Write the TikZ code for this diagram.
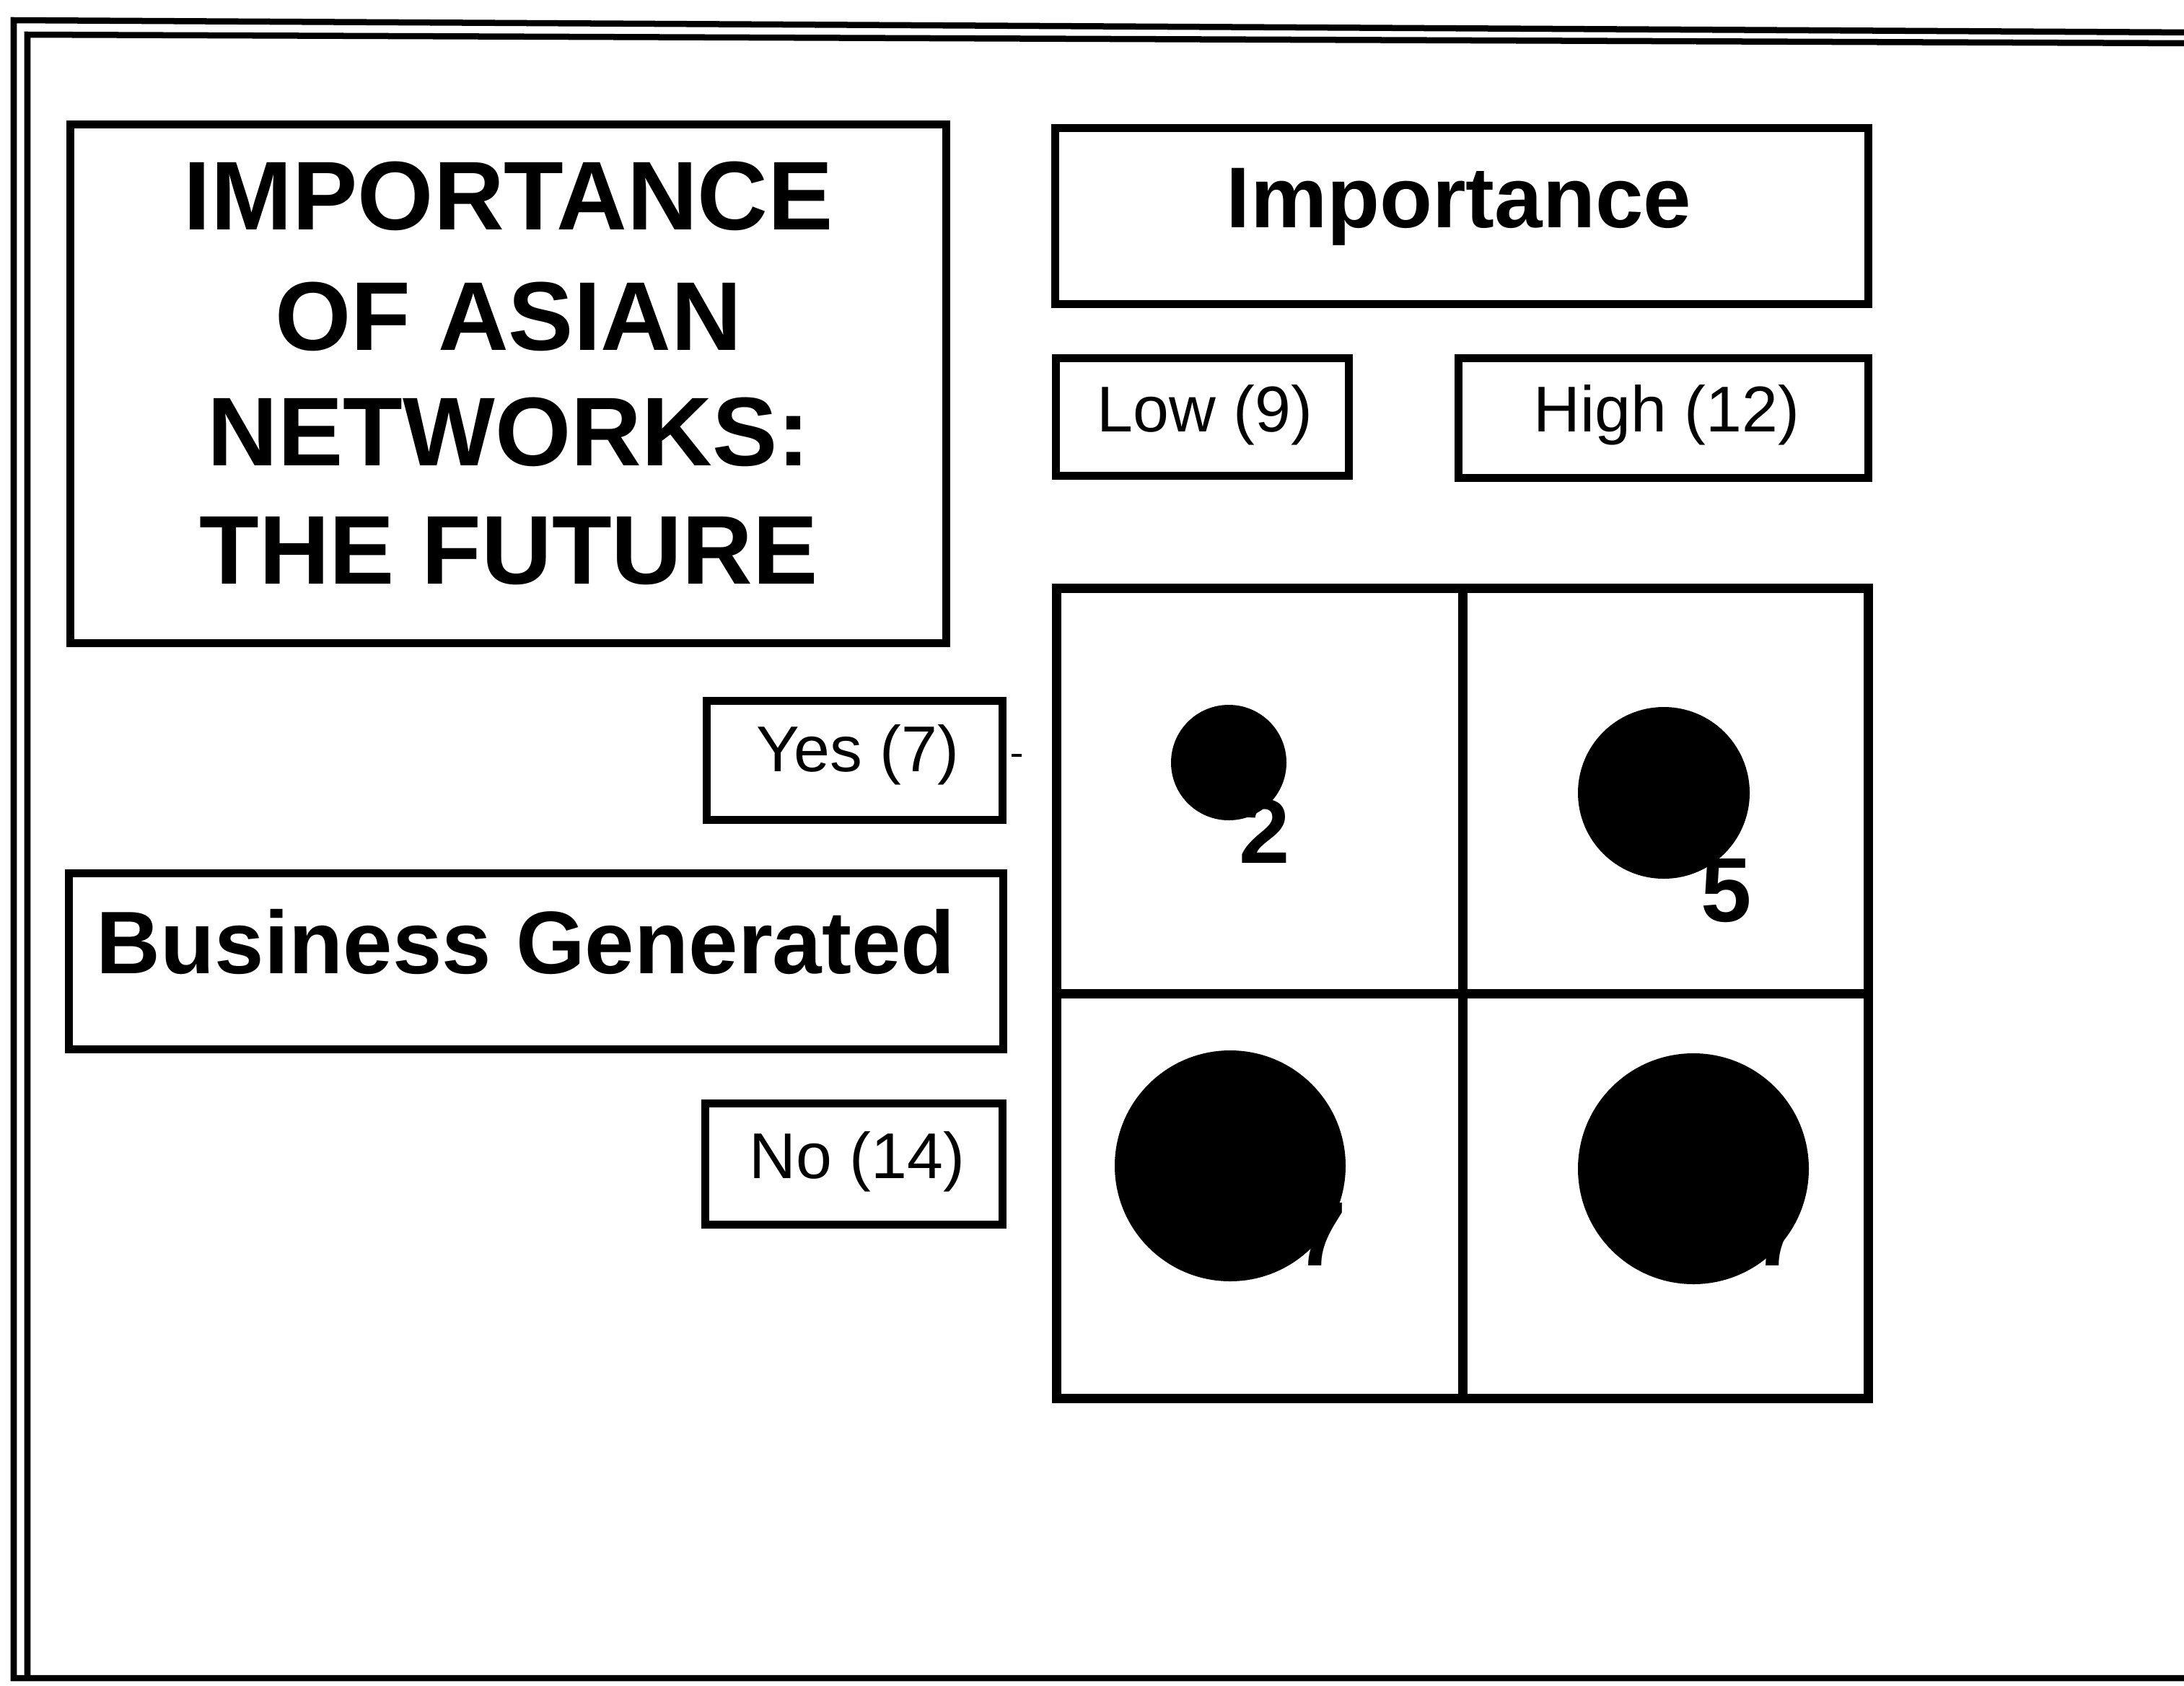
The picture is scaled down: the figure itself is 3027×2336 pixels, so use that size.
\documentclass[tikz,border=0pt]{standalone}
\usepackage{fontspec}
\setmainfont{Liberation Sans}
\begin{document}
\begin{tikzpicture}[x=0.01cm,y=-0.01cm,
  frameline/.style={line width=0.085cm},
  box/.style={draw,line width=0.11cm,rectangle,inner sep=0pt},
  cellline/.style={line width=0.13cm},
  titletext/.style={font=\fontsize{38.5}{46}\bfseries\selectfont,anchor=base},
  headtext/.style={font=\fontsize{34}{40}\bfseries\selectfont,anchor=base},
  smalltext/.style={font=\fontsize{25.5}{30}\selectfont,anchor=base},
  digit/.style={font=\fontsize{36}{40}\bfseries\selectfont,anchor=base},
  dot/.style={fill=black}]
\useasboundingbox (0,0) rectangle (3027,2336);

% page frame: double rule at left and top, single rule at bottom
\draw[frameline] (3040,45) -- (19,28) -- (19,2326) -- (3040,2326);
\draw[frameline] (3040,60) -- (38,48) -- (38,2326);

% title block
\node[box,minimum width=12.13cm,minimum height=7.18cm] (title) at (704.5,532) {};
\node[titletext] (t1) at (705,318) {IMPORTANCE};
\node[titletext] (t2) at (705,485) {OF ASIAN};
\node[titletext] (t3) at (705,645) {NETWORKS:};
\node[titletext] (t4) at (705,809) {THE FUTURE};

% column header
\node[box,minimum width=11.26cm,minimum height=2.43cm] (imp) at (2026,299.5) {};
\node[headtext] (impT) at (2022,315) {Importance};
\node[box,minimum width=4.05cm,minimum height=1.62cm] (low) at (1666.5,578) {};
\node[smalltext] (lowT) at (1670,598) {Low (9)};
\node[box,minimum width=5.67cm,minimum height=1.65cm] (high) at (2305.5,579.5) {};
\node[smalltext] (highT) at (2310,598) {High (12)};

% row header
\node[box,minimum width=4.09cm,minimum height=1.64cm] (yes) at (1184.5,1054) {};
\node[smalltext] (yesT) at (1189,1069) {Yes (7)};
\coordinate (tick) at (1402,1047);
\draw[line width=0.035cm] (tick) -- ++(14,0);
\node[box,minimum width=12.94cm,minimum height=2.43cm] (bus) at (743,1332.5) {};
\node[headtext,font=\fontsize{35}{40}\bfseries\selectfont] (busT) at (729,1349) {Business Generated};
\node[box,minimum width=4.11cm,minimum height=1.67cm] (no) at (1183.5,1613.5) {};
\node[smalltext] (noT) at (1188,1633) {No (14)};

% 2x2 grid
\node[draw,cellline,rectangle,inner sep=0pt,minimum width=11.24cm,minimum height=11.22cm] (grid) at (2027,1377) {};
\draw[cellline] (grid.north) -- (grid.south);
\draw[cellline] (grid.west) -- (grid.east);

% bubbles sized by count
\fill[dot] (1703,1057) circle[radius=80];
\node[digit] (n2) at (1753,1196) {2};
\fill[dot] (2306,1099) circle[radius=119];
\node[digit] (n5) at (2393,1277) {5};
\fill[dot] (1705,1616) circle[radius=160];
\node[digit] (n7a) at (1831,1754) {7};
\fill[dot] (2347,1620) circle[radius=160];
\node[digit] (n7b) at (2465,1754) {7};
\end{tikzpicture}
\end{document}
